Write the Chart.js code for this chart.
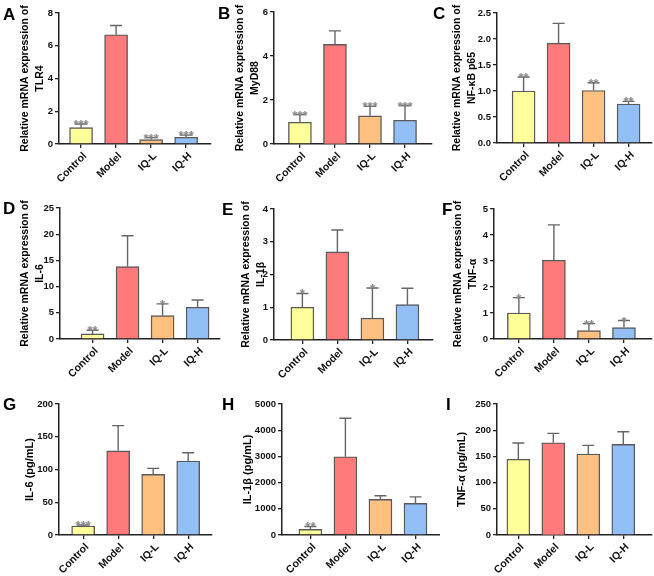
<!DOCTYPE html>
<html>
<head>
<meta charset="utf-8">
<script src="https://cdn.jsdelivr.net/npm/chart.js@4.4.0/dist/chart.umd.min.js"></script>
<style>
  body { margin: 0; background: #fff; width: 654px; height: 576px; position: relative; overflow: hidden;
         font-family: "Liberation Sans", Arial, sans-serif; }
  canvas { position: absolute; }
  .tag { position: absolute; font-weight: bold; font-size: 17px; line-height: 17px; color: #000; }
</style>
</head>
<body>
<script>
// groups on the x axis
const groups = ['Control', 'Model', 'IQ-L', 'IQ-H'];

// A - TLR4 mRNA
const tlr4Mean = [1.0, 6.67, 0.27, 0.41];
const tlr4Sd = [0.22, 0.57, 0.12, 0.13];
const tlr4Sig = ['***', '', '***', '***'];
const tlr4Ticks = [0, 2, 4, 6, 8];

// B - MyD88 mRNA
const myd88Mean = [0.99, 4.53, 1.28, 1.08];
const myd88Sd = [0.35, 0.61, 0.43, 0.67];
const myd88Sig = ['***', '', '***', '***'];
const myd88Ticks = [0, 2, 4, 6];

// C - NF-kB p65 mRNA
const nfkbMean = [1.0, 1.92, 1.01, 0.75];
const nfkbSd = [0.27, 0.38, 0.15, 0.05];
const nfkbSig = ['**', '', '**', '**'];
const nfkbTicks = [0, 0.5, 1.0, 1.5, 2.0, 2.5];

// D - IL-6 mRNA
const il6mMean = [0.97, 13.8, 4.46, 6.05];
const il6mSd = [0.7, 5.9, 2.25, 1.4];
const il6mSig = ['**', '', '*', ''];
const il6mTicks = [0, 5, 10, 15, 20, 25];

// E - IL-1b mRNA
const il1bmMean = [1.0, 2.69, 0.67, 1.08];
const il1bmSd = [0.42, 0.67, 0.92, 0.5];
const il1bmSig = ['*', '', '*', ''];
const il1bmTicks = [0, 1, 2, 3, 4];

// F - TNF-a mRNA
const tnfmMean = [1.0, 3.03, 0.32, 0.44];
const tnfmSd = [0.59, 1.36, 0.27, 0.27];
const tnfmSig = ['*', '', '**', '*'];
const tnfmTicks = [0, 1, 2, 3, 4, 5];

// G - IL-6 protein
const il6Mean = [13.7, 128.5, 92.5, 113];
const il6Sd = [1.6, 38.5, 9.2, 12.5];
const il6Sig = ['***', '', '', ''];
const il6Ticks = [0, 50, 100, 150, 200];

// H - IL-1b protein
const il1bMean = [216, 2985, 1358, 1206];
const il1bSd = [110, 1470, 140, 250];
const il1bSig = ['**', '', '', ''];
const il1bTicks = [0, 1000, 2000, 3000, 4000, 5000];

// I - TNF-a protein
const tnfMean = [144.5, 176, 154.5, 173];
const tnfSd = [31, 18, 16.5, 24];
const tnfSig = ['', '', '', ''];
const tnfTicks = [0, 50, 100, 150, 200, 250];

const barColors = ['#FFFF99', '#FF7B7B', '#FFC080', '#93BFF7'];
const mrna = 'Relative mRNA expression of';

// box = [left, top, width, height] of each canvas; ax/ty/zy/rx = axis positions on the page
const panels = [
  { tag: 'A', tagAt: [3, 6], title: [mrna, 'TLR4'], mean: tlr4Mean, sd: tlr4Sd, sig: tlr4Sig, ticks: tlr4Ticks, dec: 0,
    box: [0, 0, 222, 190], ax: 59, ty: 13, zy: 144, rx: 211, tc: 25, xr: [-0.63, 3.71] },
  { tag: 'B', tagAt: [218, 5], title: [mrna, 'MyD88'], mean: myd88Mean, sd: myd88Sd, sig: myd88Sig, ticks: myd88Ticks, dec: 0,
    box: [215, 0, 225, 190], ax: 274, ty: 12, zy: 144, rx: 432, tc: 25, xr: [-0.74, 3.77] },
  { tag: 'C', tagAt: [433, 5], title: [mrna, 'NF-κB p65'], mean: nfkbMean, sd: nfkbSd, sig: nfkbSig, ticks: nfkbTicks, dec: 1,
    box: [430, 0, 224, 190], ax: 497, ty: 13, zy: 143, rx: 652, tc: 27, xr: [-0.76, 3.67] },
  { tag: 'D', tagAt: [3, 200], title: [mrna, 'IL-6'], mean: il6mMean, sd: il6mSd, sig: il6mSig, ticks: il6mTicks, dec: 0,
    box: [0, 190, 222, 190], ax: 60, ty: 208, zy: 339, rx: 220, tc: 25, xr: [-0.93, 3.64] },
  { tag: 'E', tagAt: [222, 201], title: [mrna, 'IL-1β'], mean: il1bmMean, sd: il1bmSd, sig: il1bmSig, ticks: il1bmTicks, dec: 0,
    box: [215, 190, 225, 190], ax: 274, ty: 209, zy: 340, rx: 433, tc: 31, xr: [-0.81, 3.73] },
  { tag: 'F', tagAt: [442, 201], title: [mrna, 'TNF-α'], mean: tnfmMean, sd: tnfmSd, sig: tnfmSig, ticks: tnfmTicks, dec: 0,
    box: [430, 190, 224, 190], ax: 494, ty: 209, zy: 339, rx: 652, tc: 28, xr: [-0.71, 3.8] },
  { tag: 'G', tagAt: [3, 396], title: 'IL-6 (pg/mL)', mean: il6Mean, sd: il6Sd, sig: il6Sig, ticks: il6Ticks, dec: 0,
    box: [0, 380, 222, 196], ax: 59, ty: 404, zy: 535, rx: 212, tc: 30, xr: [-0.69, 3.68] },
  { tag: 'H', tagAt: [222, 396], title: 'IL-1β (pg/mL)', mean: il1bMean, sd: il1bSd, sig: il1bSig, ticks: il1bTicks, dec: 0,
    box: [215, 380, 225, 196], ax: 282, ty: 404, zy: 535, rx: 440, tc: 33, xr: [-0.81, 3.7] },
  { tag: 'I', tagAt: [446, 396], title: 'TNF-α (pg/mL)', mean: tnfMean, sd: tnfSd, sig: tnfSig, ticks: tnfTicks, dec: 0,
    box: [430, 380, 224, 196], ax: 497, ty: 404, zy: 535, rx: 652, tc: 32, xr: [-0.61, 3.82] }
];

// error bars (mean + SD, upward only) and significance stars
const errorBars = {
  id: 'errorBars',
  afterDatasetsDraw(chart) {
    const ctx = chart.ctx;
    const y = chart.scales.y;
    const ds = chart.data.datasets[0];
    const meta = chart.getDatasetMeta(0);
    ctx.save();
    meta.data.forEach((bar, i) => {
      const top = y.getPixelForValue(ds.data[i].y + ds.sd[i]);
      ctx.strokeStyle = '#666';
      ctx.lineWidth = 1.4;
      ctx.beginPath();
      ctx.moveTo(bar.x, bar.y);
      ctx.lineTo(bar.x, top);
      ctx.moveTo(bar.x - 6, top);
      ctx.lineTo(bar.x + 6, top);
      ctx.stroke();
      if (ds.sig[i]) {
        ctx.fillStyle = '#8a8a8a';
        ctx.font = 'bold 13px "Liberation Sans", Arial';
        ctx.textAlign = 'center';
        ctx.textBaseline = 'alphabetic';
        ctx.fillText(ds.sig[i], bar.x, top + 5);
      }
    });
    ctx.restore();
  }
};

const axisColor = '#222';

panels.forEach(p => {
  const [L, T, W, H] = p.box;
  const cv = document.createElement('canvas');
  cv.width = W; cv.height = H;
  cv.style.left = L + 'px'; cv.style.top = T + 'px';
  cv.style.width = W + 'px'; cv.style.height = H + 'px';
  document.body.appendChild(cv);

  const tag = document.createElement('div');
  tag.className = 'tag';
  tag.textContent = p.tag;
  tag.style.left = p.tagAt[0] + 'px';
  tag.style.top = p.tagAt[1] + 'px';
  document.body.appendChild(tag);

  const multi = Array.isArray(p.title);
  const titleFont = { family: '"Liberation Sans", Arial', weight: 'bold', size: multi ? 10.5 : 11, lineHeight: 1.4 };
  const lh = titleFont.size * titleFont.lineHeight;

  new Chart(cv, {
    type: 'bar',
    data: {
      datasets: [{
        data: p.mean.map((v, i) => ({ x: i, y: v })),
        sd: p.sd,
        sig: p.sig,
        backgroundColor: barColors,
        borderColor: '#595959',
        borderWidth: 1.4,
        barThickness: 23
      }]
    },
    options: {
      responsive: false,
      animation: false,
      layout: { padding: { top: p.ty - T, right: L + W - p.rx, left: 0, bottom: 0 } },
      plugins: { legend: { display: false }, tooltip: { enabled: false } },
      scales: {
        x: {
          type: 'linear',
          min: p.xr[0],
          max: p.xr[1],
          bounds: 'data',
          offset: false,
          // one tick per group
          afterBuildTicks: s => { s.ticks = groups.map((g, i) => ({ value: i })); },
          afterFit: s => { s.height = T + H - p.zy; s.paddingLeft = 0; s.paddingRight = 0; },
          ticks: {
            autoSkip: false,
            minRotation: 45,
            maxRotation: 45,
            padding: 2,
            labelOffset: 4,
            color: '#111',
            font: { family: '"Liberation Sans", Arial', weight: 'bold', size: 10.5 },
            callback: v => groups[v]
          },
          grid: { offset: false, drawOnChartArea: false, drawTicks: true, tickLength: 4, color: axisColor, lineWidth: 1.3 },
          border: { display: true, color: axisColor, width: 1.5 }
        },
        y: {
          min: p.ticks[0],
          max: p.ticks[p.ticks.length - 1],
          afterFit: s => { s.width = p.ax - L; },
          ticks: {
            stepSize: p.ticks[1] - p.ticks[0],
            padding: 2,
            color: '#111',
            font: { family: '"Liberation Sans", Arial', weight: 'bold', size: 9.5 },
            callback: v => v.toFixed(p.dec)
          },
          title: {
            display: true,
            text: p.title,
            color: '#000',
            font: titleFont,
            padding: { top: p.tc - lh / 2, bottom: 0 }
          },
          grid: { drawOnChartArea: false, drawTicks: true, tickLength: 4, color: axisColor, lineWidth: 1.3 },
          border: { display: true, color: axisColor, width: 1.5 }
        }
      }
    },
    plugins: [errorBars]
  });
});
</script>
</body>
</html>
